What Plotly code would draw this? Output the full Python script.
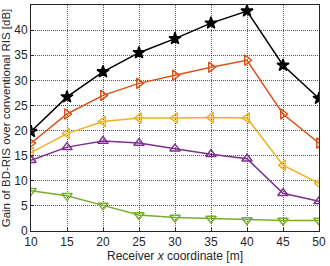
import plotly.graph_objects as go

x = [10, 15, 20, 25, 30, 35, 40, 45, 50]
s_black = [19.8, 26.7, 31.7, 35.5, 38.3, 41.4, 43.8, 33.0, 26.4]
s_orange = [17.5, 23.3, 27.0, 29.4, 31.0, 32.6, 34.0, 23.3, 17.5]
s_yellow = [15.6, 19.4, 21.8, 22.5, 22.5, 22.6, 22.5, 13.1, 9.5]
s_purple = [14.1, 16.7, 17.9, 17.5, 16.4, 15.3, 14.4, 7.5, 5.9]
s_green = [8.0, 7.0, 5.1, 3.2, 2.7, 2.5, 2.2, 2.1, 2.1]

series = [
    (s_black, "#000000", "star", 9),
    (s_orange, "#D95319", "triangle-right-open", 9),
    (s_yellow, "#EDB120", "triangle-left-open", 9),
    (s_purple, "#7E2F8E", "triangle-up-open", 9),
    (s_green, "#77AC30", "triangle-down-open", 9),
]

fig = go.Figure()
for ys, col, sym, sz in series:
    fig.add_trace(go.Scatter(
        x=x, y=ys, mode="lines+markers",
        line=dict(color=col, width=1.5),
        marker=dict(symbol=sym, size=sz, color=col,
                    line=dict(color=col, width=1.5)),
        showlegend=False,
    ))

font = dict(family="Liberation Sans, Arial", size=12, color="#262626")
yfont = dict(family="Liberation Sans, Arial", size=11.5, color="#262626")
axis_common = dict(
    showgrid=True, gridcolor="rgba(30,30,30,0.75)", griddash="1px,1px", gridwidth=1,
    showline=True, linecolor="#262626", linewidth=1, mirror=True,
    ticks="inside", ticklen=3, tickcolor="#262626",
    tickfont=font,
    zeroline=False,
)

fig.update_xaxes(range=[10, 50], tickvals=x,
                 title=dict(text="Receiver <i>x</i> coordinate [m]", standoff=3, font=font),
                 **axis_common)
fig.update_yaxes(range=[0, 45], dtick=5,
                 title=dict(text="Gain of BD-RIS over conventional RIS [dB]", standoff=2, font=yfont),
                 **axis_common)

fig.update_layout(
    width=330, height=266,
    margin=dict(l=30, r=7, t=4, b=35),
    paper_bgcolor="white", plot_bgcolor="white",
)

fig.write_html("out.html", config={"displayModeBar": False},
               post_script="document.body.style.margin='0';document.body.style.overflow='hidden';")
